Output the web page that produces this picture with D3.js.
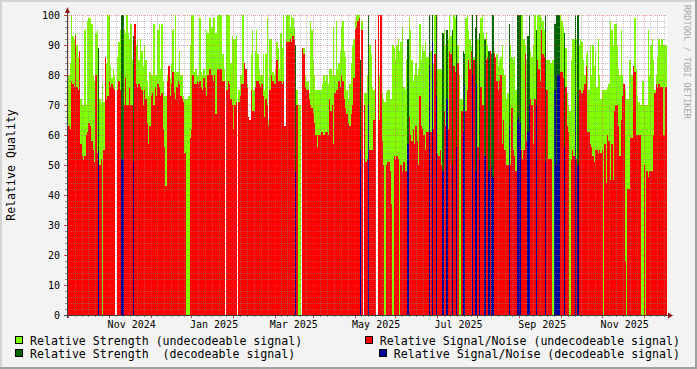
<!DOCTYPE html>
<html><head><meta charset="utf-8">
<script src="https://cdn.jsdelivr.net/npm/d3@7"></script>
<style>
html,body{margin:0;padding:0;background:#f3f3f3;}
svg text{font-family:"DejaVu Sans Mono",monospace;}
</style>
</head><body>
<svg id="chart" width="697" height="369"></svg>
<script>
// ---------- DATA (daily values, starting 2024-09-14) ----------
const startDay = "2024-09-14";
// Relative Strength (undecodeable signal); null = no value that day
const strengthU = [
100,80,84,100,93,92,94,90,86,85,
72,70,70,95,70,98,99,99,97,80,
78,94,95,null,72,71,77,71,78,84,
100,100,83,79,82,80,null,86,91,95,
null,null,95,94,100,94,92,97,85,null,
97,90,92,85,92,88,83,90,85,78,
73,81,80,80,97,80,80,95,97,82,
97,78,73,73,80,82,79,84,95,81,
100,81,81,88,80,80,73,72,72,72,
73,90,100,100,81,82,80,80,99,81,
80,82,80,95,94,99,99,96,99,99,
94,100,100,100,100,87,82,null,100,100,
100,84,93,92,92,93,null,75,80,80,
100,80,75,77,66,65,87,95,75,88,
95,87,82,80,80,87,75,87,99,65,
92,92,81,80,82,91,89,82,94,89,
100,63,100,100,100,96,100,99,96,null,
75,70,70,null,89,89,80,78,78,74,
98,95,85,80,75,75,75,75,75,77,
80,78,80,77,82,82,80,96,80,98,
82,84,88,96,98,88,86,75,72,77,
84,90,92,98,100,100,100,null,98,null,
74,74,80,null,90,87,76,75,92,null,
100,80,100,74,72,71,74,75,75,72,
72,90,89,85,90,92,88,91,96,76,
75,85,null,99,95,85,78,80,84,80,
82,97,85,90,88,91,86,86,null,88,
null,84,100,null,82,82,82,82,null,95,
90,null,92,100,93,null,100,99,null,90,
80,72,72,null,null,99,100,95,92,90,
null,86,null,null,92,null,99,100,94,null,
94,90,null,88,null,null,88,85,87,83,
85,86,90,82,80,72,74,null,90,86,
85,86,75,null,null,null,100,100,92,90,
85,null,null,88,86,90,100,null,100,100,
100,99,98,95,null,85,85,85,84,85,
85,null,null,null,null,100,98,96,null,89,
74,70,68,85,92,92,null,92,null,90,
92,91,85,80,87,88,75,90,80,90,
83,88,76,92,80,72,75,75,75,75,
76,77,98,95,90,97,97,90,82,80,
95,80,77,75,72,72,85,85,80,82,
99,82,73,71,70,70,78,70,70,70,
95,80,90,92,85,75,80,86,92,90,
92,90,90,90,92
];
// Relative Signal/Noise (undecodeable signal)
const snrU = [
66,63,62,78,77,76,93,76,75,88,
57,53,52,53,60,61,64,63,58,55,
51,80,54,null,50,52,null,55,86,72,
73,78,76,77,76,75,null,75,78,75,
null,null,70,79,70,70,76,70,70,null,
97,77,76,77,76,75,70,75,72,64,
57,63,73,74,70,76,73,77,76,73,
74,62,56,43,78,83,73,77,81,74,
72,76,78,77,73,72,71,54,null,null,
null,59,62,80,77,77,78,77,78,76,
75,79,76,73,80,82,82,80,78,80,
67,82,82,82,82,78,78,null,75,78,
77,72,70,62,70,71,null,71,73,77,
77,84,82,76,66,65,75,68,68,76,
78,78,77,76,77,73,66,72,70,63,
75,80,78,77,77,85,78,78,78,77,
78,63,91,91,91,92,91,93,92,null,
70,null,null,null,89,87,76,75,75,72,
70,69,67,64,60,56,60,60,61,61,
60,61,61,60,72,68,70,57,74,75,
75,78,76,80,78,72,69,67,64,63,
67,70,79,95,96,98,99,null,95,null,
70,51,52,null,55,55,55,65,92,null,
100,65,100,58,50,null,50,51,51,48,
37,null,53,52,53,52,null,50,48,51,
48,48,null,66,60,58,62,57,63,58,
50,73,63,62,60,55,61,61,null,61,
null,62,87,null,54,53,55,50,null,68,
63,null,62,88,87,null,83,81,null,84,
null,null,68,null,null,68,75,85,82,88,
null,85,null,null,56,null,76,70,70,null,
85,86,null,88,null,null,87,86,78,75,
78,80,57,65,55,50,50,null,50,69,
55,53,48,null,null,null,55,52,55,87,
58,null,null,72,70,57,72,null,85,82,
78,95,87,86,null,75,52,52,52,null,
null,null,null,null,null,81,81,79,null,76,
63,61,null,52,55,53,null,52,null,75,
75,74,75,77,83,61,61,57,56,53,
51,55,55,54,55,54,55,null,57,44,
60,58,45,57,45,68,70,70,63,53,
65,73,77,18,null,42,42,59,59,83,
81,60,60,60,60,null,null,50,null,48,
46,48,48,48,60,74,77,76,77,76,
76,60,60,76,77
];
// Decodeable signal days (day index), strength and S/N values
const decodeDays     = [23, 40, 41, 49,169,217,223,252,268,270,273,278,281,285,288,293,294,300,302,303,305,309,312,314,315,327,333,334,335,341,342,347,354,361,362,363,364,368,376,378];
const decodeStrength = [89,100,100, 93, 90, 85,100, 92,100,100,100, 94, 95, 95,100, 88, 87,100, 96,100, 94, 92, 88, 87,100, 97,100,100,100, 93,100, 95,100, 97,100,100,100, 94,100,100];
const decodeSnr      = [55, 52, 52, 51, 48, 55, 70, 57, 83, 91, 73, 48, 72, 50, 56, 61, 77, 80, 48, 77, 52, 53, 48, 50, 46, 63, 65, 66, 64, 61, 70, 70, 51, 75, 50, 80, 80, 56, 73, 50];
const yTickValues = [0,10,20,30,40,50,60,70,80,90,100];
const xLabelMonths = ["2024-11-01","2025-01-01","2025-03-01","2025-05-01","2025-07-01","2025-09-01","2025-11-01"];
const legendItems = [
  {label:"Relative Strength (undecodeable signal)", color:"#80ff00"},
  {label:"Relative Signal/Noise (undecodeable signal)", color:"#ff0000"},
  {label:"Relative Strength  (decodeable signal)", color:"#006400"},
  {label:"Relative Signal/Noise (decodeable signal)", color:"#000099"}
];

// ---------- LAYOUT ----------
const W = 697, H = 369;
const L = 67, R = 667, T = 15, B = 315;
const DAY = 86400000;
const t0 = Date.parse(startDay + "T00:00:00Z");
const domStart = Date.parse("2024-09-14T02:24:00Z");
const domEnd = domStart + 444.22 * DAY;

const svg = d3.select("#chart");
const x = d3.scaleUtc().domain([new Date(domStart), new Date(domEnd)]).range([L, R]);
const y = d3.scaleLinear().domain([0, 100]).range([B, T]);

// background + 3D frame
svg.append("rect").attr("x",0).attr("y",0).attr("width",W).attr("height",H).attr("fill","#f3f3f3");
svg.append("rect").attr("x",0).attr("y",0).attr("width",W).attr("height",2).attr("fill","#d4d4d4");
svg.append("rect").attr("x",0).attr("y",0).attr("width",2).attr("height",H).attr("fill","#d4d4d4");
svg.append("rect").attr("x",0).attr("y",H-2).attr("width",W).attr("height",2).attr("fill","#a0a0a0");
svg.append("rect").attr("x",W-2).attr("y",0).attr("width",2).attr("height",H).attr("fill","#a0a0a0");

// canvas
svg.append("rect").attr("x",L).attr("y",T).attr("width",R-L).attr("height",B-T).attr("fill","#ffffff");

svg.append("defs").append("clipPath").attr("id","clip")
  .append("rect").attr("x",L).attr("y",T-1).attr("width",R-L).attr("height",B-T+1);
const plot = svg.append("g").attr("clip-path","url(#clip)").attr("shape-rendering","crispEdges");

function dayRect(i){
  const a = Math.round(x(new Date(t0 + i*DAY)));
  const b = Math.round(x(new Date(t0 + (i+1)*DAY)));
  return [a, Math.max(1, b-a)];
}
function drawSeries(idx, vals, color){
  const data = idx.map((d,k)=>({i:d, v:vals[k]})).filter(d=>d.v!=null && d.v>0);
  plot.append("g").selectAll("rect").data(data).join("rect")
    .attr("x", d=>dayRect(d.i)[0])
    .attr("width", d=>dayRect(d.i)[1])
    .attr("y", d=>Math.round(y(d.v)))
    .attr("height", d=>B - Math.round(y(d.v)))
    .attr("fill", color);
}
const allIdx = strengthU.map((_,i)=>i);
drawSeries(allIdx, strengthU, "#80ff00");
drawSeries(allIdx, snrU, "#ff0000");
drawSeries(decodeDays, decodeStrength, "#006400");
drawSeries(decodeDays, decodeSnr, "#000099");

// ---------- GRID ----------
const grid = svg.append("g").attr("shape-rendering","crispEdges");
const minorCol = "rgba(140,140,140,0.5)", majorCol = "rgba(225,70,70,0.5)";
// horizontal
d3.range(0, 101, 2).forEach(v=>{
  const yy = Math.round(y(v)) + 0.5;
  const major = v % 10 === 0;
  if (v>0) grid.append("line").attr("x1",L).attr("x2",R).attr("y1",yy).attr("y2",yy)
    .attr("stroke", major?majorCol:minorCol).attr("stroke-dasharray","1,1");
  grid.append("line").attr("x1",L-(major?3:2)).attr("x2",L).attr("y1",yy).attr("y2",yy)
    .attr("stroke", major?"#c04040":"#909090");
});
// vertical: major at mid-month, minor at 6 subdivisions
const majors = [];
for (let m = 8; m <= 23; m++) majors.push(Date.UTC(2024, m, 15));
majors.forEach((tm, k)=>{
  if (k < majors.length-1) {
    const nx = majors[k+1];
    for (let s=1; s<6; s++){
      const t = tm + (nx-tm)*s/6;
      const xx = Math.round(x(new Date(t))) + 0.5;
      if (xx > L+1 && xx < R) {
        grid.append("line").attr("x1",xx).attr("x2",xx).attr("y1",T).attr("y2",B)
          .attr("stroke",minorCol).attr("stroke-dasharray","1,1");
        grid.append("line").attr("x1",xx).attr("x2",xx).attr("y1",B).attr("y2",B+2).attr("stroke","#909090");
      }
    }
  }
  const xx = Math.round(x(new Date(tm))) + 0.5;
  if (xx > L+1 && xx < R) {
    grid.append("line").attr("x1",xx).attr("x2",xx).attr("y1",T).attr("y2",B)
      .attr("stroke",majorCol).attr("stroke-dasharray","1,1");
    grid.append("line").attr("x1",xx).attr("x2",xx).attr("y1",B).attr("y2",B+3).attr("stroke","#c04040");
  }
});

// axes
svg.append("line").attr("x1",L-3).attr("x2",R+2).attr("y1",B+0.5).attr("y2",B+0.5).attr("stroke","#404040").attr("shape-rendering","crispEdges");
svg.append("line").attr("x1",L+0.5).attr("x2",L+0.5).attr("y1",B+3).attr("y2",T-4).attr("stroke","#404040").attr("shape-rendering","crispEdges");
svg.append("path").attr("d",`M${R+1},${B-2.5}L${R+6},${B+0.5}L${R+1},${B+3.5}Z`).attr("fill","#8b1a1a");
svg.append("path").attr("d",`M${L-2},${T-2}L${L+0.5},${T-8}L${L+3},${T-2}Z`).attr("fill","#8b1a1a");

// y labels
svg.append("g").selectAll("text").data(yTickValues).join("text")
  .attr("x", 60).attr("y", d=>y(d)+3.5).attr("text-anchor","end")
  .attr("font-size","10px").attr("fill","#000").text(d=>d);
// x labels
svg.append("g").selectAll("text").data(xLabelMonths).join("text")
  .attr("x", d=>x(new Date(d+"T00:00:00Z"))).attr("y", 328).attr("text-anchor","middle")
  .attr("font-size","10px").attr("fill","#000")
  .text(d=>d3.utcFormat("%b %Y")(new Date(d+"T00:00:00Z")));

// y title
svg.append("text").attr("transform","translate(15,165) rotate(-90)").attr("text-anchor","middle")
  .attr("font-size","11.6px").attr("fill","#000").text("Relative Quality");
// watermark
svg.append("text").attr("transform","translate(684,5) rotate(90)").attr("text-anchor","start")
  .attr("font-size","8.6px").attr("fill","#aaaaaa").text("RRDTOOL / TOBI OETIKER");

// legend
const leg = svg.append("g").attr("font-size","11.6px");
function legendEntry(item, tx, ty, anchorEnd){
  const t = leg.append("text").attr("x",tx).attr("y",ty).attr("fill","#000")
    .style("white-space","pre").attr("text-anchor", anchorEnd?"end":"start").text(item.label);
  const len = t.node().getComputedTextLength();
  const startX = anchorEnd ? tx - len : tx;
  leg.append("rect").attr("x", Math.round(startX-15)+0.5).attr("y", ty-8.5).attr("width",7).attr("height",7)
    .attr("fill", item.color).attr("stroke","#000").attr("stroke-width",1).attr("shape-rendering","crispEdges");
}
legendEntry(legendItems[0], 30, 345, false);
legendEntry(legendItems[1], 680, 345, true);
legendEntry(legendItems[2], 30, 358, false);
legendEntry(legendItems[3], 680, 358, true);
</script>
</body></html>
